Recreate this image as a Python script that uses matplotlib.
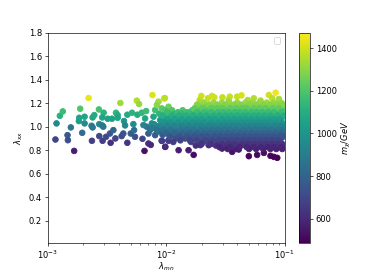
"""
Scatter of lambda_xx vs lambda_mn coloured by m_chi.
Saved to out.png
"""
import warnings
import numpy as np
import matplotlib
matplotlib.use("Agg")
import matplotlib.pyplot as plt

# isolated points, read one at a time (log10 lambda_mn, lambda_xx, m_chi)
sparse_logx = [-2.935, -2.926, -2.898, -2.873, -2.833, -2.830, -2.805, -2.777, -2.737, -2.734, -2.726, -2.709,
               -2.689, -2.689, -2.655, -2.630, -2.621, -2.627, -2.621, -2.607, -2.568, -2.565, -2.565, -2.540,
               -2.531, -2.537, -2.528, -2.540, -2.508, -2.494, -2.475, -2.469, -2.458, -2.446, -2.429, -2.424,
               -2.410, -2.410, -2.387, -2.376, -2.362, -2.356, -2.347, -2.328, -2.328, -2.299, -2.288, -2.277,
               -2.271, -2.263, -2.248, -2.243, -2.229, -2.206, -2.200, -2.183, -2.169, -2.178, -2.150, -2.130,
               -2.116, -2.150, -2.093, -2.065, -2.079, -2.017, -2.037, -2.008, -2.164, -2.121, -2.079, -2.093,
               -2.037, -2.008, -1.980, -1.994, -2.051, -2.107, -1.980, -2.022, -2.192, -2.136,
               -2.011, -1.703, -1.717, -1.647, -1.613, -1.593, -1.525, -1.463, -1.472, -1.401, -1.364, -1.311,
               -1.260, -1.133, -1.076, -1.105, -1.048, -1.203, -1.712,
               -2.008, -1.895, -1.811, -1.768, -1.712, -1.641, -1.528, -1.443, -1.387, -1.302, -1.232, -1.175,
               -1.119, -1.062, -1.090, -2.037, -1.980]
sparse_y = [0.891, 1.028, 1.093, 1.130, 0.928, 0.885, 0.994, 0.794, 1.048, 1.076, 1.153, 0.948,
            1.085, 1.028, 1.244, 1.008, 0.994, 0.880, 1.079, 1.099, 1.147, 0.920, 1.022, 1.011,
            1.000, 0.880, 1.119, 1.079, 0.914, 1.068, 0.942, 0.863, 1.068, 0.971, 0.900, 1.119,
            1.099, 1.076, 1.202, 0.920, 0.942, 1.048, 1.011, 0.863, 1.102, 0.942, 1.119, 1.022,
            0.971, 0.914, 1.222, 1.102, 1.193, 1.119, 0.897, 0.794, 1.133, 1.070, 0.857, 0.845,
            1.270, 0.942, 1.142, 1.213, 1.185, 1.241, 1.156, 1.113, 1.000, 1.028, 0.971, 0.928,
            0.880, 0.828, 0.880, 1.028, 1.056, 1.085, 0.957, 0.971, 1.014, 0.971,
            1.244, 1.262, 1.227, 1.242, 1.262, 1.250, 1.250, 1.256, 1.227, 1.256, 1.267, 1.227,
            1.242, 1.270, 1.290, 1.242, 1.236, 1.222, 1.199,
            0.829, 0.800, 0.800, 0.760, 0.843, 0.843, 0.814, 0.786, 0.806, 0.749, 0.760, 0.777,
            0.752, 0.735, 0.743, 0.880, 0.885]
sparse_m = [690, 950, 1110, 1160, 760, 720, 870, 570, 1020, 1060, 1200, 830,
            1060, 950, 1440, 890, 870, 660, 1060, 1090, 1180, 700, 930, 900,
            880, 660, 1120, 1060, 700, 1050, 750, 620, 1050, 800, 680, 1130,
            1090, 1060, 1330, 700, 740, 1000, 930, 640, 1090, 770, 1120, 950,
            830, 720, 1360, 1090, 1320, 1130, 680, 530, 1160, 1060, 620, 600,
            1420, 780, 1170, 1340, 1300, 1390, 1220, 1120, 880, 950, 830, 770,
            680, 590, 670, 950, 1020, 1070, 820, 850, 910, 840,
            1370, 1400, 1370, 1380, 1400, 1400, 1380, 1390, 1350, 1380, 1410, 1340,
            1360, 1400, 1450, 1370, 1340, 1330, 1330,
            610, 560, 560, 520, 600, 600, 570, 530, 550, 500, 510, 520,
            500, 490, 495, 660, 670]

# dense cloud, read band by band
band_y = [1.205, 1.17, 1.14, 1.11, 1.08, 1.05, 1.02, 0.99, 0.96, 0.93, 0.90, 0.87, 0.84, 0.81,
          1.188, 1.157, 1.123, 1.094, 1.063, 1.034, 1.006, 0.973, 0.944, 0.916, 0.884, 0.853, 0.826]
band_m = [1320, 1260, 1200, 1130, 1070, 1010, 950, 890, 830, 770, 710, 660, 610, 570,
          1290, 1230, 1160, 1100, 1040, 980, 920, 860, 800, 740, 685, 635, 590]
band_logx = [
    [-1.68, -1.60, -1.53, -1.47, -1.40, -1.33, -1.27, -1.21, -1.15, -1.09, -1.03],
    [-1.98, -1.72, -1.66, -1.59, -1.55, -1.49, -1.44, -1.38, -1.35, -1.29, -1.24, -1.19, -1.13, -1.08, -1.02],
    [-2.01, -1.95, -1.86, -1.78, -1.71, -1.65, -1.60, -1.54, -1.50, -1.45, -1.40, -1.36, -1.31, -1.26, -1.22, -1.17, -1.12, -1.06, -1.01],
    [-2.06, -1.98, -1.93, -1.87, -1.80, -1.75, -1.69, -1.64, -1.58, -1.53, -1.48, -1.43, -1.38, -1.33, -1.29, -1.24, -1.19, -1.14, -1.09, -1.04],
    [-2.02, -1.96, -1.90, -1.84, -1.78, -1.73, -1.67, -1.62, -1.56, -1.51, -1.46, -1.41, -1.36, -1.31, -1.26, -1.21, -1.16, -1.11, -1.07, -1.02],
    [-2.04, -1.99, -1.93, -1.87, -1.81, -1.76, -1.70, -1.65, -1.59, -1.54, -1.49, -1.44, -1.39, -1.34, -1.29, -1.24, -1.19, -1.14, -1.09, -1.04],
    [-2.10, -2.02, -1.96, -1.90, -1.84, -1.78, -1.73, -1.67, -1.62, -1.57, -1.51, -1.46, -1.41, -1.36, -1.31, -1.26, -1.21, -1.16, -1.11, -1.06, -1.01],
    [-2.12, -2.05, -1.99, -1.93, -1.85, -1.80, -1.74, -1.69, -1.64, -1.59, -1.53, -1.48, -1.43, -1.38, -1.33, -1.28, -1.23, -1.18, -1.13, -1.08, -1.03],
    [-2.06, -1.96, -1.90, -1.83, -1.77, -1.71, -1.66, -1.60, -1.55, -1.50, -1.45, -1.40, -1.35, -1.30, -1.25, -1.20, -1.15, -1.10, -1.05, -1.01],
    [-2.03, -1.94, -1.86, -1.79, -1.73, -1.67, -1.62, -1.56, -1.51, -1.46, -1.41, -1.36, -1.31, -1.26, -1.21, -1.16, -1.11, -1.06, -1.02],
    [-1.92, -1.84, -1.76, -1.69, -1.63, -1.58, -1.52, -1.47, -1.42, -1.37, -1.32, -1.27, -1.22, -1.17, -1.12, -1.07, -1.03],
    [-1.94, -1.79, -1.72, -1.65, -1.56, -1.49, -1.44, -1.39, -1.34, -1.29, -1.24, -1.19, -1.14, -1.09, -1.04],
    [-1.75, -1.58, -1.50, -1.45, -1.40, -1.33, -1.27, -1.21, -1.15, -1.10, -1.05, -1.01],
    [-1.48, -1.41, -1.30, -1.24, -1.18, -1.12, -1.07, -1.02],
    [-1.74, -1.64, -1.57, -1.50, -1.43, -1.37, -1.30, -1.24, -1.18, -1.12, -1.06, -1.01],
    [-1.76, -1.69, -1.62, -1.57, -1.52, -1.46, -1.41, -1.36, -1.32, -1.26, -1.21, -1.16, -1.10, -1.05],
    [-1.99, -1.90, -1.82, -1.74, -1.68, -1.62, -1.56, -1.52, -1.47, -1.42, -1.38, -1.33, -1.28, -1.24, -1.19, -1.14, -1.09, -1.03],
    [-2.03, -1.95, -1.89, -1.83, -1.77, -1.71, -1.66, -1.60, -1.55, -1.50, -1.45, -1.40, -1.35, -1.31, -1.26, -1.22, -1.17, -1.12, -1.06, -1.01],
    [-1.99, -1.93, -1.87, -1.81, -1.75, -1.70, -1.64, -1.59, -1.53, -1.48, -1.43, -1.38, -1.33, -1.28, -1.23, -1.18, -1.13, -1.09, -1.04],
    [-2.01, -1.96, -1.90, -1.84, -1.78, -1.73, -1.68, -1.62, -1.56, -1.51, -1.46, -1.41, -1.36, -1.31, -1.27, -1.22, -1.17, -1.12, -1.07, -1.02],
    [-2.06, -1.99, -1.93, -1.87, -1.81, -1.75, -1.70, -1.64, -1.60, -1.54, -1.49, -1.44, -1.39, -1.34, -1.29, -1.24, -1.19, -1.14, -1.08, -1.03],
    [-2.08, -2.02, -1.96, -1.88, -1.82, -1.77, -1.71, -1.66, -1.61, -1.56, -1.51, -1.46, -1.41, -1.35, -1.30, -1.25, -1.20, -1.16, -1.11, -1.05, -1.01],
    [-2.00, -1.93, -1.86, -1.80, -1.74, -1.68, -1.63, -1.58, -1.53, -1.48, -1.43, -1.38, -1.33, -1.28, -1.23, -1.18, -1.13, -1.08, -1.03],
    [-1.97, -1.89, -1.82, -1.76, -1.70, -1.65, -1.59, -1.54, -1.49, -1.44, -1.39, -1.34, -1.29, -1.24, -1.19, -1.14, -1.09, -1.04, -1.01],
    [-1.88, -1.80, -1.74, -1.67, -1.61, -1.55, -1.50, -1.45, -1.40, -1.35, -1.30, -1.25, -1.20, -1.15, -1.10, -1.05],
    [-1.70, -1.62, -1.53, -1.47, -1.42, -1.36, -1.31, -1.26, -1.21, -1.16, -1.11, -1.06, -1.02],
    [-1.55, -1.46, -1.38, -1.32, -1.26, -1.20, -1.14, -1.09, -1.03],
]

lam_mn = list(10.0 ** np.array(sparse_logx))
lam_xx = list(sparse_y)
m_chi = list(sparse_m)
for yy, mm, xs in zip(band_y, band_m, band_logx):
    lam_mn += list(10.0 ** np.array(xs))
    lam_xx += [yy] * len(xs)
    m_chi += [mm] * len(xs)

fig, ax = plt.subplots(figsize=(382 / 60, 273 / 60))
sc = ax.scatter(lam_mn, lam_xx, c=m_chi, s=46, cmap="viridis", vmin=486, vmax=1472)
ax.set_xscale("log")
ax.set_xlim(1e-3, 1e-1); ax.set_ylim(0.01, 1.8)
ax.set_yticks([0.2, 0.4, 0.6, 0.8, 1.0, 1.2, 1.4, 1.6, 1.8])
ax.set_xlabel(r"$\lambda_{mn}$", labelpad=-1); ax.set_ylabel(r"$\lambda_{xx}$")
with warnings.catch_warnings():
    warnings.simplefilter("ignore")
    ax.legend()  # no labelled artists, the empty box is in the original
cb = fig.colorbar(sc, ax=ax)
cb.set_label(r"$m_\chi/GeV$")
fig.savefig("out.png", dpi=60)
